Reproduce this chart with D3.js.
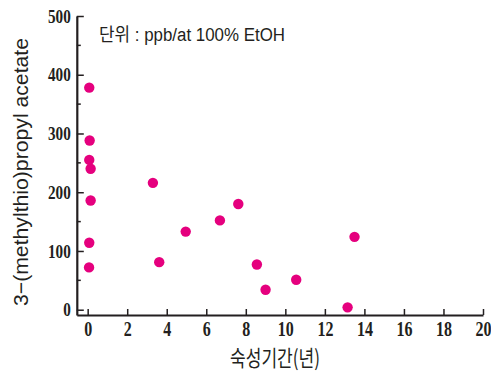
<!DOCTYPE html>
<html>
<head>
<meta charset="utf-8">
<script src="https://cdn.jsdelivr.net/npm/d3@7"></script>
<style>
  html, body { margin: 0; padding: 0; background: #fff; }
  svg { display: block; }
</style>
</head>
<body>
<svg id="chart" width="491" height="375"></svg>
<script>
// Aging period (years) and 3-(methylthio)propyl acetate content (ppb)
const agingYears = [0.08, 0.1, 0.08, 0.15, 0.15, 0.08, 0.07, 3.3, 3.62, 4.96, 6.69, 7.62, 8.56, 9.0, 10.55, 13.15, 13.5];
const acetatePpb = [378, 288, 255, 240, 186, 114, 72, 216, 81, 133, 152, 180, 77, 34, 51, 4, 124];

const xTicks = [0, 2, 4, 6, 8, 10, 12, 14, 16, 18, 20];
const yTicks = [0, 100, 200, 300, 400, 500];
const yMinorTicks = [50, 150, 250, 350, 450];

const unitNote = "단위 : ppb/at 100% EtOH";
const xTitle = "숙성기간(년)";
const yTitle = "3−(methylthio)propyl acetate";

const ink = "#231f20";
const dotColor = "#e5007e";

const svg = d3.select("#chart");

const x = d3.scaleLinear().domain([-0.55, 20]).range([76.8, 483]);
const y = d3.scaleLinear().domain([-9, 500]).range([315, 16]);

const x0 = x(-0.55);
const y0 = y(-9);

// x axis: ticks point up into the plot
const gx = svg.append("g")
  .attr("transform", `translate(0,${y0})`)
  .call(d3.axisBottom(x).tickValues(xTicks).tickFormat(d3.format("d"))
    .tickSizeInner(-6).tickSizeOuter(0).tickPadding(7));

// y axis: ticks point right into the plot
const gy = svg.append("g")
  .attr("transform", `translate(${x0},0)`)
  .call(d3.axisLeft(y).tickValues(yTicks).tickFormat(d3.format("d"))
    .tickSizeInner(-7).tickSizeOuter(0).tickPadding(6));

// minor y ticks
gy.selectAll("line.minor")
  .data(yMinorTicks)
  .join("line")
  .attr("class", "minor")
  .attr("x1", 0).attr("x2", 4)
  .attr("y1", d => y(d)).attr("y2", d => y(d))
  .attr("stroke", ink).attr("stroke-width", 1.5);

[gx, gy].forEach(g => {
  g.select(".domain").attr("stroke", ink).attr("stroke-width", 2.2);
  g.selectAll(".tick line").attr("stroke", ink).attr("stroke-width", 1.5);
  g.selectAll(".tick text")
    .attr("fill", ink)
    .attr("font-family", "'Liberation Serif', 'Times New Roman', serif")
    .attr("font-weight", "bold");
});

gx.selectAll(".tick text")
  .attr("font-size", 20)
  .attr("transform", "scale(0.8,1)");

gy.selectAll(".tick text")
  .attr("font-size", 19)
  .attr("x", 0)
  .attr("transform", "translate(-6,0) scale(0.8,1)");

// data points
svg.append("g")
  .selectAll("circle")
  .data(agingYears.map((a, i) => ({ a, v: acetatePpb[i] })))
  .join("circle")
  .attr("cx", d => x(d.a))
  .attr("cy", d => y(d.v))
  .attr("r", 5.2)
  .attr("fill", dotColor);

// unit note
svg.append("text")
  .attr("x", 99)
  .attr("y", 41)
  .attr("font-family", "'Liberation Sans', 'Noto Sans CJK KR', sans-serif")
  .attr("font-size", 18)
  .attr("fill", ink)
  .attr("textLength", 186)
  .attr("lengthAdjust", "spacingAndGlyphs")
  .text(unitNote);

// x title
svg.append("text")
  .attr("x", 230)
  .attr("y", 366)
  .attr("font-family", "'Noto Sans CJK KR', sans-serif")
  .attr("font-size", 22)
  .attr("fill", ink)
  .attr("textLength", 90)
  .attr("lengthAdjust", "spacingAndGlyphs")
  .text(xTitle);

// y title
svg.append("text")
  .attr("transform", "translate(28,172) rotate(-90)")
  .attr("text-anchor", "middle")
  .attr("font-family", "'Liberation Sans', Arial, sans-serif")
  .attr("font-size", 21)
  .attr("fill", ink)
  .attr("textLength", 268)
  .attr("lengthAdjust", "spacingAndGlyphs")
  .text(yTitle);
</script>
</body>
</html>
